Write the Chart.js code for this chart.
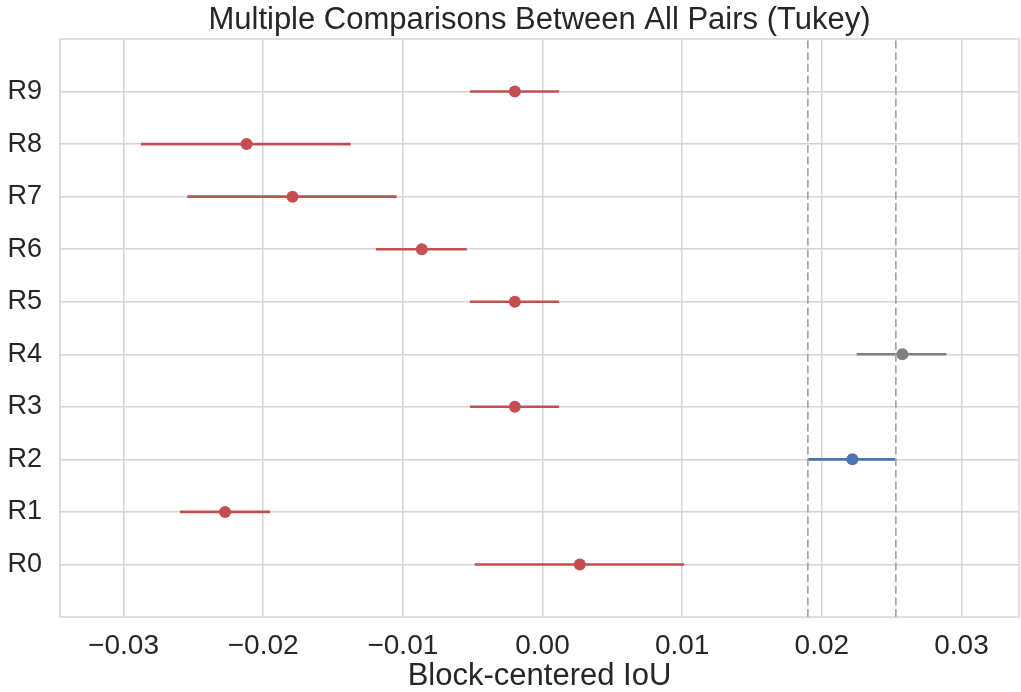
<!DOCTYPE html>
<html>
<head>
<meta charset="utf-8">
<script src="https://cdn.jsdelivr.net/npm/chart.js@4.4.1/dist/chart.umd.min.js"></script>
<style>
  body { margin: 0; background: #fff; }
  #wrap { width: 1021px; height: 692px; }
</style>
</head>
<body>
<div id="wrap"><canvas id="tukeyChart" width="1021" height="692"></canvas></div>
<script>
// groups R0..R9, mean difference with simultaneous interval
const categories = ['R0', 'R1', 'R2', 'R3', 'R4', 'R5', 'R6', 'R7', 'R8', 'R9'];
const meanValues = [0.00267, -0.02273, 0.02219, -0.00198, 0.02577, -0.00198, -0.00864, -0.01790, -0.02119, -0.00198];
const lowerValues = [-0.00485, -0.02595, 0.01901, -0.00520, 0.02250, -0.00520, -0.01193, -0.02544, -0.02875, -0.00520];
const upperValues = [0.01014, -0.01951, 0.02527, 0.00119, 0.02892, 0.00119, -0.00542, -0.01045, -0.01374, 0.00119];
const groupColors = ['#c44e52', '#c44e52', '#4c72b0', '#c44e52', '#808080', '#c44e52', '#c44e52', '#c44e52', '#c44e52', '#c44e52'];
const refLines = [0.0190, 0.0253];
const xTicks = [-0.03, -0.02, -0.01, 0.00, 0.01, 0.02, 0.03];

const FONT = '"Liberation Sans", Arial, Helvetica, sans-serif';
const TEXT = '#262626';
const GRID = '#d4d4d4';

// seaborn-style frame round the plot area
const framePlugin = {
  id: 'frame',
  beforeDatasetsDraw(chart) {
    const a = chart.chartArea;
    const ctx = chart.ctx;
    ctx.save();
    ctx.strokeStyle = GRID;
    ctx.lineWidth = 1.5;
    ctx.strokeRect(a.left, a.top, a.right - a.left, a.bottom - a.top);
    ctx.restore();
  }
};

const datasets = [];

refLines.forEach(v => {
  datasets.push({
    data: [{ x: v, y: -1 }, { x: v, y: 10 }],
    showLine: true,
    borderColor: '#a6a6a6',
    borderWidth: 1.7,
    borderDash: [8, 3.6],
    pointRadius: 0
  });
});

categories.forEach((c, i) => {
  datasets.push({
    data: [{ x: lowerValues[i], y: i }, { x: upperValues[i], y: i }],
    showLine: true,
    borderColor: groupColors[i],
    borderWidth: 2.6,
    pointRadius: 0
  });
});

datasets.push({
  data: meanValues.map((v, i) => ({ x: v, y: i })),
  pointRadius: 6,
  pointBorderWidth: 0,
  pointBackgroundColor: groupColors,
  pointBorderColor: groupColors
});

const ctx = document.getElementById('tukeyChart').getContext('2d');
new Chart(ctx, {
  type: 'scatter',
  data: { datasets },
  plugins: [framePlugin],
  options: {
    responsive: false,
    animation: false,
    layout: { autoPadding: false, padding: { left: 0, right: 2, top: 0, bottom: 0 } },
    plugins: {
      legend: { display: false },
      tooltip: { enabled: false },
      title: {
        display: true,
        fullSize: false,
        text: 'Multiple Comparisons Between All Pairs (Tukey)',
        color: TEXT,
        font: { family: FONT, size: 31, weight: 'normal', lineHeight: 1.2 },
        padding: { top: 1.5, bottom: 0.3 }
      }
    },
    scales: {
      x: {
        type: 'linear',
        min: -0.03455,
        max: 0.03412,
        afterBuildTicks: s => { s.ticks = xTicks.map(v => ({ value: v })); },
        afterFit: s => { s.height = 75; s.paddingLeft = 0; s.paddingRight = 0; },
        border: { display: false },
        grid: { color: GRID, lineWidth: 1.5, drawTicks: false },
        ticks: {
          color: TEXT,
          padding: 12,
          maxRotation: 0,
          font: { family: FONT, size: 28 },
          callback: v => (v < 0 ? '\u2212' : '') + Math.abs(v).toFixed(2)
        },
        title: {
          display: true,
          text: 'Block-centered IoU',
          color: TEXT,
          padding: { top: 0, bottom: -3 },
          font: { family: FONT, size: 31 }
        }
      },
      y: {
        type: 'linear',
        min: -1,
        max: 10,
        afterBuildTicks: s => { s.ticks = categories.map((c, i) => ({ value: i })); },
        afterFit: s => { s.width = 60; },
        border: { display: false },
        grid: { color: GRID, lineWidth: 1.5, drawTicks: false },
        ticks: {
          color: TEXT,
          padding: 18,
          font: { family: FONT, size: 27 },
          callback: v => categories[v]
        }
      }
    }
  }
});
</script>
</body>
</html>
